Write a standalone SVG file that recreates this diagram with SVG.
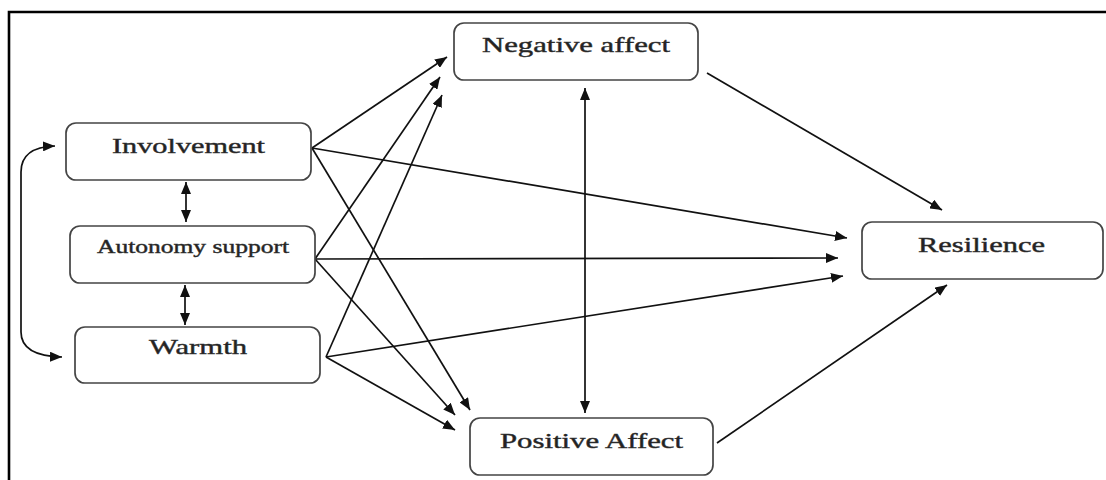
<svg xmlns="http://www.w3.org/2000/svg" width="1106" height="480" viewBox="0 0 1106 480">
<style>
.box{fill:#fff;stroke:#444;stroke-width:1.7}
.lbl{font-family:"Liberation Serif","Times New Roman",serif;fill:#222;stroke:#333;stroke-width:0.45;text-anchor:start}
.c{fill:none;stroke:#111;stroke-width:1.7}
.frame{fill:none;stroke:#000;stroke-width:2.6}
</style>
<defs>
<marker id="ah" viewBox="0 0 12 10" refX="12" refY="5" markerWidth="12" markerHeight="10" markerUnits="userSpaceOnUse" orient="auto-start-reverse">
<path d="M0,0 L12,5 L0,10 z" fill="#111"/>
</marker>
</defs>
<rect width="1106" height="480" fill="#fff"/>
<path class="frame" d="M9,481 L9,12 L1107,12"/>
<g id="connectors">
<path class="c" d="M55,146 Q21,147 21,172 L21,332 Q21,356 62,357" marker-start="url(#ah)" marker-end="url(#ah)"/>
<line class="c" x1="186" y1="182" x2="186" y2="222" marker-start="url(#ah)" marker-end="url(#ah)"/>
<line class="c" x1="185" y1="285" x2="185" y2="325" marker-start="url(#ah)" marker-end="url(#ah)"/>
<line class="c" x1="585" y1="88" x2="585" y2="413" marker-start="url(#ah)" marker-end="url(#ah)"/>
<line class="c" x1="312" y1="148" x2="447" y2="57" marker-end="url(#ah)"/>
<line class="c" x1="312" y1="148" x2="847" y2="238" marker-end="url(#ah)"/>
<line class="c" x1="312" y1="148" x2="470" y2="410" marker-end="url(#ah)"/>
<line class="c" x1="315" y1="259" x2="440" y2="77" marker-end="url(#ah)"/>
<line class="c" x1="315" y1="259" x2="838" y2="258" marker-end="url(#ah)"/>
<line class="c" x1="315" y1="259" x2="455" y2="415" marker-end="url(#ah)"/>
<line class="c" x1="326" y1="357" x2="442" y2="95" marker-end="url(#ah)"/>
<line class="c" x1="326" y1="357" x2="843" y2="276" marker-end="url(#ah)"/>
<line class="c" x1="326" y1="357" x2="455" y2="430" marker-end="url(#ah)"/>
<line class="c" x1="707" y1="73" x2="942" y2="210" marker-end="url(#ah)"/>
<line class="c" x1="717" y1="443" x2="947" y2="285" marker-end="url(#ah)"/>
</g>
<g id="involvement">
<rect class="box" x="66" y="123" width="245" height="57" rx="10"/>
<text class="lbl" x="112" y="153" font-size="22" textLength="153" lengthAdjust="spacingAndGlyphs">Involvement</text>
</g>
<g id="autonomy">
<rect class="box" x="70" y="226" width="245" height="57" rx="10"/>
<text class="lbl" x="97" y="253" font-size="19" textLength="192" lengthAdjust="spacingAndGlyphs">Autonomy support</text>
</g>
<g id="warmth">
<rect class="box" x="75" y="327" width="245" height="56" rx="10"/>
<text class="lbl" x="149" y="354" font-size="22" textLength="98" lengthAdjust="spacingAndGlyphs">Warmth</text>
</g>
<g id="negative">
<rect class="box" x="454" y="23" width="244" height="57" rx="10"/>
<text class="lbl" x="482" y="52" font-size="22" textLength="188" lengthAdjust="spacingAndGlyphs">Negative affect</text>
</g>
<g id="positive">
<rect class="box" x="470" y="418" width="243" height="57" rx="10"/>
<text class="lbl" x="500" y="448" font-size="22" textLength="183" lengthAdjust="spacingAndGlyphs">Positive Affect</text>
</g>
<g id="resilience">
<rect class="box" x="862" y="222" width="241" height="57" rx="10"/>
<text class="lbl" x="918" y="252" font-size="22" textLength="127" lengthAdjust="spacingAndGlyphs">Resilience</text>
</g>
</svg>
